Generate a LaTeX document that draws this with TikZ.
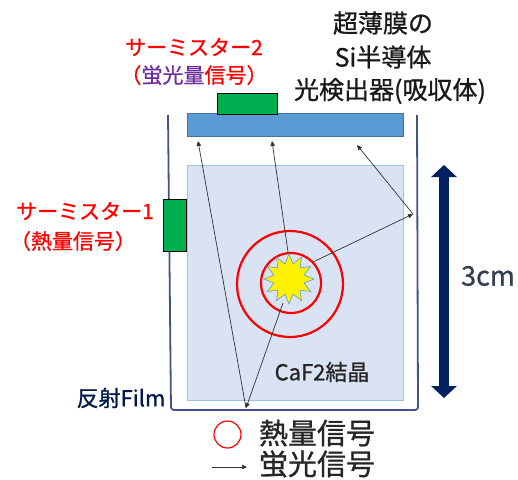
\documentclass[tikz,border=0pt]{standalone}
\usepackage{fontspec}
\setmainfont{Noto Sans CJK JP}[FakeBold=0.9]
\usetikzlibrary{shapes.geometric, arrows.meta}

\definecolor{wallc}{RGB}{68,84,130}
\definecolor{detblue}{RGB}{91,155,213}
\definecolor{detedge}{RGB}{65,113,156}
\definecolor{crystal}{RGB}{218,227,243}
\definecolor{crystaledge}{RGB}{157,195,230}
\definecolor{thermgreen}{RGB}{0,176,80}
\definecolor{navyc}{RGB}{0,32,96}
\definecolor{purp}{RGB}{112,48,160}
\definecolor{textgray}{RGB}{51,63,80}
\definecolor{raygray}{RGB}{50,50,50}

\tikzset{
  label/.style={inner sep=0pt, font=#1},
  therm/.style={draw=black, fill=thermgreen, line width=0.8pt, inner sep=0pt},
  ray/.style={draw=raygray, line width=0.7pt, -{Triangle[length=5pt,width=4.5pt]}},
  heat/.style={draw=red, line width=2.2pt},
}

\begin{document}
\begin{tikzpicture}[x=1pt,y=-1pt]
\useasboundingbox (0,0) rectangle (518,479);

% CaF2 crystal block
\node[draw=crystaledge, fill=crystal, line width=0.8pt, inner sep=0pt,
      minimum width=216pt, minimum height=235pt] (crys) at (295,282.5) {};

% reflective film container
\draw[wallc, line width=1.8pt, rounded corners=3pt]
  (168,115) -- (171,410) -- (418,410) -- (417,115);

% Si detector (absorber)
\node[draw=detedge, fill=detblue, line width=0.6pt, inner sep=0pt,
      minimum width=216pt, minimum height=23pt] (det) at (295,125) {};

% thermistors
\node[therm, minimum width=60pt, minimum height=21pt] (th2) at (247,103.5) {};
\node[therm, minimum width=23pt, minimum height=52pt] (th1) at (174.5,225) {};

% heat rings
\draw[heat] (290,284) circle [radius=53pt];
\draw[heat] (291,283) circle [radius=30pt];

% scintillation flash
\node[star, star points=12, star point ratio=1.6, minimum size=50pt,
      fill=yellow, draw=detblue, line width=0.6pt, inner sep=0pt] (flash) at (289,279) {};

% ray points
\coordinate (sTop) at (288,252);
\coordinate (sRight) at (313,262);
\coordinate (sDown) at (283,303);
\coordinate (bounce) at (246,408);
\coordinate (wallhit) at (413,214);
\coordinate (d1) at (198,141);
\coordinate (d2) at (272,141);
\coordinate (d3) at (357,145);

% fluorescence rays
\draw[ray] (sDown) -- (bounce);
\draw[ray] (bounce) -- (d1);
\draw[ray] (sTop) -- (d2);
\draw[ray] (sRight) -- (wallhit);
\draw[ray] (wallhit) -- (d3);

% 3 cm scale
\coordinate (scTop) at (444,165);
\coordinate (scBot) at (444,398);
\draw[navyc, line width=10pt,
  {Triangle[length=12pt,width=25pt]}-{Triangle[length=12pt,width=25pt]}] (scTop) -- (scBot);
\node[label={\fontsize{27}{29}\selectfont}, text=textgray] (len) at (488,276) {3cm};

% labels
\node[label={\fontsize{25}{27}\selectfont}, text=black!90] (t1) at (383,23) {超薄膜の};
\node[label={\fontsize{25}{27}\selectfont}, text=black!90] (t2) at (383,57) {Si半導体};
\node[label={\fontsize{25}{27}\selectfont}, text=black!90] (t3) at (390,91) {光検出器(吸収体)};

\node[label={\fontsize{21}{23}\selectfont}, text=red] (th2a) at (194,47) {サーミスター2};
\node[label={\fontsize{21}{23}\selectfont}, text=red] (th2b) at (194,75)
  {（\textcolor{purp}{蛍光量}信号）};

\node[label={\fontsize{21}{23}\selectfont}, text=red] (th1a) at (85,211) {サーミスター1};
\node[label={\fontsize{21}{23}\selectfont}, text=red] (th1b) at (73,241) {（熱量信号）};

\node[label={\fontsize{22}{24}\selectfont}, text=navyc!80!black] (film) at (121,398) {反射Film};
\node[label={\fontsize{22}{24}\selectfont}, text=black!85] (caf) at (322,372) {CaF2結晶};

% legend
\draw[draw=red, line width=1.2pt] (227.5,434.5) circle [radius=13.5pt];
\node[label={\fontsize{29}{31}\selectfont}, text=black!85] (lg1) at (317,433) {熱量信号};
\coordinate (la) at (212,467);
\coordinate (lb) at (247,467);
\draw[ray] (la) -- (lb);
\node[label={\fontsize{29}{31}\selectfont}, text=black!85] (lg2) at (317,464) {蛍光信号};

\end{tikzpicture}
\end{document}
